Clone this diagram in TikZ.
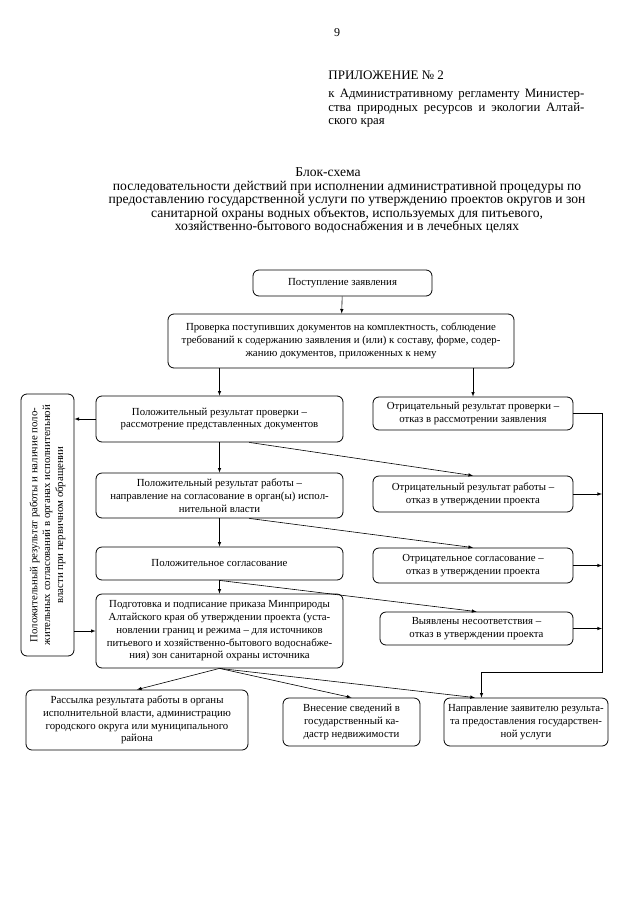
\documentclass[tikz,border=0pt]{standalone}
\usepackage{fontspec}
\setmainfont{Liberation Serif}
\usetikzlibrary{calc}

\tikzset{
  blok/.style={draw, rounded corners=6pt, align=center, inner sep=2pt,
    font=\fontsize{10.8}{12.8}\selectfont},
  svyaz/.style={->, line width=0.6pt},
}

\begin{document}
\begin{tikzpicture}[x=1pt, y=-1pt, >=latex, line width=0.8pt]
  \useasboundingbox[fill=white] (0,0) rectangle (640,905);

  % Шапка страницы
  \node (num) at (337,33) {\fontsize{12}{13}\selectfont 9};
  \node[anchor=west, inner sep=0] (pril) at (328,75) {\fontsize{13}{14}\selectfont ПРИЛОЖЕНИЕ № 2};
  \node[anchor=north west, inner sep=0, align=left, font=\fontsize{12.8}{13.5}\selectfont] (regl) at (328,89)
    {\makebox[256pt][s]{к Административному регламенту Министер-}\\
     \makebox[256pt][s]{ства природных ресурсов и экологии Алтай-}\\
     ского края};

  % Заголовок блок-схемы
  \node[font=\fontsize{13.6}{13.5}\selectfont] (titl) at (328,172) {Блок-схема};
  \node[align=center, font=\fontsize{13.6}{13.5}\selectfont] (subt) at (347,207)
    {последовательности действий при исполнении административной процедуры по\\
     предоставлению государственной услуги по утверждению проектов округов и зон\\
     санитарной охраны водных объектов, используемых для питьевого,\\
     хозяйственно-бытового водоснабжения и в лечебных целях};

  % Блоки
  \node[blok, minimum width=179pt, minimum height=26pt] (recv) at (342.5,283) {Поступление заявления};
  \node[blok, minimum width=346pt, minimum height=54pt] (check) at (341,341)
    {Проверка поступивших документов на комплектность, соблюдение\\
     требований к содержанию заявления и (или) к составу, форме, содер-\\
     жанию документов, приложенных к нему};
  \node[blok, minimum width=247pt, minimum height=46pt] (pos1) at (219.5,419)
    {Положительный результат проверки –\\ рассмотрение представленных документов};
  \node[blok, minimum width=200pt, minimum height=33pt] (neg1) at (473,413.5)
    {Отрицательный результат проверки –\\ отказ в рассмотрении заявления};
  \node[blok, minimum width=247pt, minimum height=45pt] (pos2) at (219.5,495.5)
    {Положительный результат работы –\\ направление на согласование в орган(ы) испол-\\нительной власти};
  \node[blok, minimum width=200pt, minimum height=36pt] (neg2) at (473,494)
    {Отрицательный результат работы –\\ отказ в утверждении проекта};
  \node[blok, minimum width=247pt, minimum height=33pt] (pos3) at (219.5,563.5)
    {Положительное согласование};
  \node[blok, minimum width=200pt, minimum height=35pt] (neg3) at (473,565.5)
    {Отрицательное согласование –\\ отказ в утверждении проекта};
  \node[blok, minimum width=247pt, minimum height=74pt] (prep) at (219.5,631)
    {Подготовка и подписание приказа Минприроды\\
     Алтайского края об утверждении проекта (уста-\\
     новлении границ и режима – для источников\\
     питьевого и хозяйственно-бытового водоснабже-\\
     ния) зон санитарной охраны источника};
  \node[blok, minimum width=193pt, minimum height=33pt] (mism) at (476.5,628.5)
    {Выявлены несоответствия –\\ отказ в утверждении проекта};
  \node[blok, minimum width=222pt, minimum height=60pt] (send) at (137,720)
    {Рассылка результата работы в органы\\ исполнительной власти, администрацию\\
     городского округа или муниципального\\ района};
  \node[blok, minimum width=137pt, minimum height=48pt] (cadas) at (351.5,722)
    {Внесение сведений в\\ государственный ка-\\дастр недвижимости};
  \node[blok, minimum width=164pt, minimum height=48pt] (notify) at (526,722)
    {Направление заявителю результа-\\та предоставления государствен-\\ной услуги};
  \node[blok, rotate=90, minimum width=262pt, minimum height=53pt] (lbox) at (47.5,525)
    {Положительный результат работы и наличие поло-\\
     жительных согласований в органах исполнительной\\
     власти при первичном обращении};

  % Стрелки по основной ветке
  \draw[svyaz] (recv) -- (check);
  \draw[svyaz] (check.south -| pos1) -- (pos1);
  \draw[svyaz] (check.south -| neg1) -- (neg1);
  \draw[svyaz] (pos1) -- (pos2);
  \draw[svyaz] (pos2) -- (pos3);
  \draw[svyaz] (pos3) -- (prep);

  % Отказы
  \draw[svyaz] ($(pos1.south west)!0.62!(pos1.south east)$) -- (neg2.north);
  \draw[svyaz] ($(pos2.south west)!0.62!(pos2.south east)$) -- (neg3.north);
  \draw[svyaz] (pos3.south) -- (mism.north);

  % Повторное обращение
  \draw[svyaz] (pos1.west) -- (pos1.west -| lbox.south);
  \draw[svyaz] (prep.west -| lbox.south) -- (prep.west);

  % Результаты
  \draw[svyaz] (prep.south) -- (send.north);
  \draw[svyaz] (prep.south) -- (cadas.north);
  \draw[svyaz] (prep.south) -- ($(notify.north west)!0.19!(notify.north east)$);

  % Общая линия справа
  \coordinate (busend) at (602,672);
  \draw[svyaz] (neg1.east) -| (busend) -| ($(notify.north west)!0.23!(notify.north east)$);
  \draw[svyaz] (neg2.east) -- (neg2.east -| busend);
  \draw[svyaz] (neg3.east) -- (neg3.east -| busend);
  \draw[svyaz] (mism.east) -- (mism.east -| busend);
\end{tikzpicture}
\end{document}
